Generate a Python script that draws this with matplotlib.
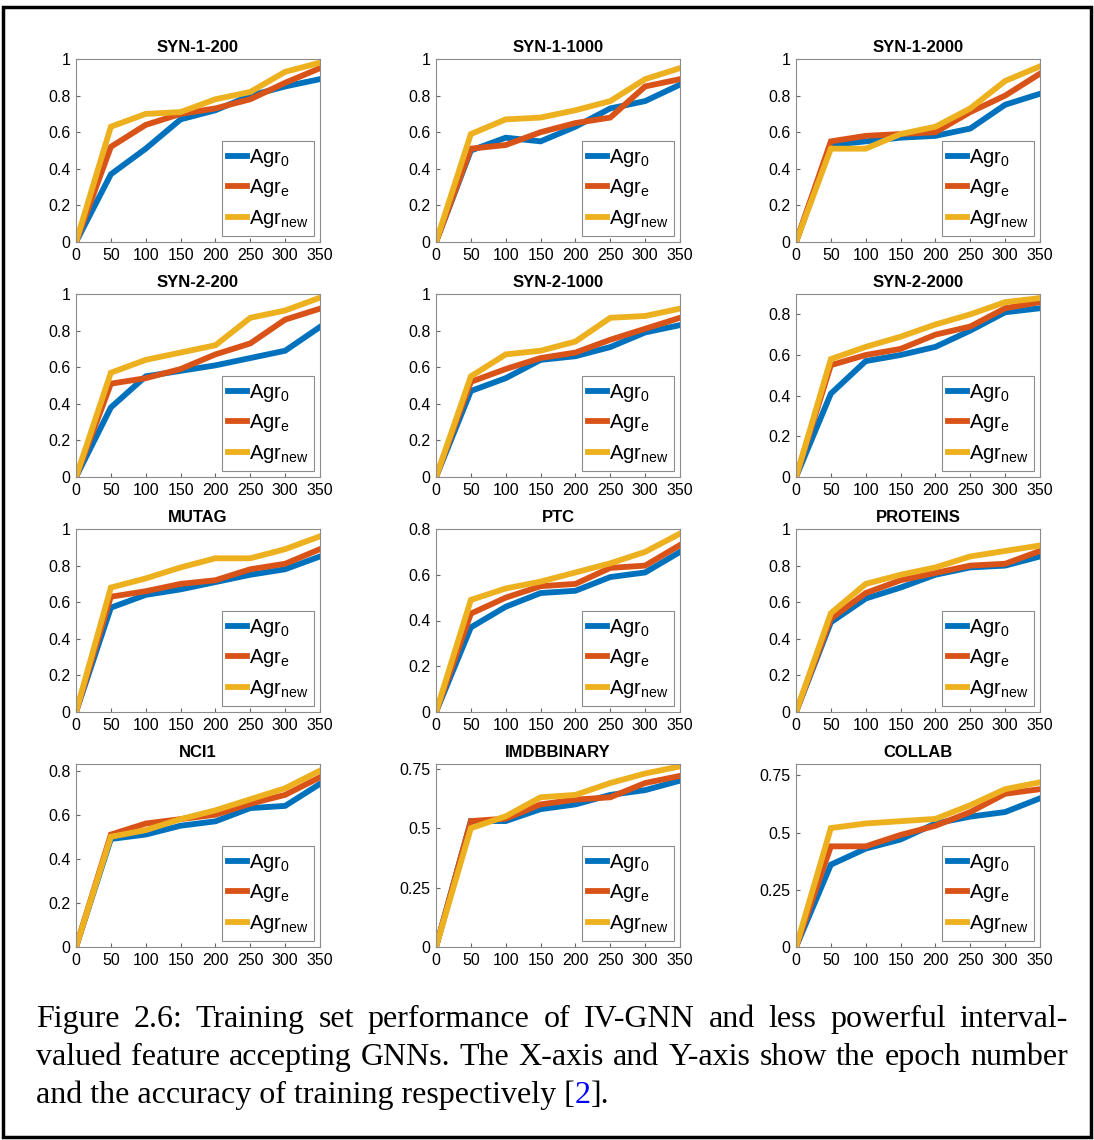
import matplotlib
matplotlib.use('Agg')
import matplotlib.pyplot as plt
from matplotlib.ticker import FormatStrFormatter
from matplotlib.patches import Rectangle
import numpy as np

plt.rcParams['font.family'] = ['Liberation Sans', 'DejaVu Sans']
plt.rcParams['mathtext.fontset'] = 'custom'
plt.rcParams['mathtext.rm'] = 'Liberation Sans'
plt.rcParams['mathtext.it'] = 'Liberation Sans'

epochs = [0, 50, 100, 150, 200, 250, 300, 350]

titles = ['SYN-1-200', 'SYN-1-1000', 'SYN-1-2000',
          'SYN-2-200', 'SYN-2-1000', 'SYN-2-2000',
          'MUTAG', 'PTC', 'PROTEINS',
          'NCI1', 'IMDBBINARY', 'COLLAB']

agr_0 = [
    [0, 0.37, 0.51, 0.67, 0.72, 0.80, 0.85, 0.89],
    [0, 0.50, 0.57, 0.55, 0.63, 0.73, 0.77, 0.86],
    [0, 0.53, 0.55, 0.57, 0.58, 0.62, 0.75, 0.81],
    [0, 0.38, 0.55, 0.58, 0.61, 0.65, 0.69, 0.82],
    [0, 0.47, 0.54, 0.64, 0.66, 0.71, 0.79, 0.83],
    [0, 0.41, 0.57, 0.60, 0.64, 0.72, 0.81, 0.83],
    [0, 0.57, 0.64, 0.67, 0.71, 0.75, 0.78, 0.85],
    [0, 0.37, 0.46, 0.52, 0.53, 0.59, 0.61, 0.70],
    [0, 0.49, 0.62, 0.68, 0.75, 0.79, 0.80, 0.85],
    [0, 0.49, 0.51, 0.55, 0.57, 0.63, 0.64, 0.74],
    [0, 0.53, 0.53, 0.58, 0.60, 0.64, 0.66, 0.70],
    [0, 0.36, 0.43, 0.47, 0.54, 0.57, 0.59, 0.65],
]
agr_e = [
    [0, 0.52, 0.64, 0.70, 0.73, 0.78, 0.87, 0.95],
    [0, 0.51, 0.53, 0.60, 0.65, 0.68, 0.85, 0.89],
    [0, 0.55, 0.58, 0.59, 0.60, 0.71, 0.80, 0.92],
    [0, 0.51, 0.54, 0.59, 0.67, 0.73, 0.86, 0.92],
    [0, 0.52, 0.59, 0.65, 0.68, 0.75, 0.81, 0.87],
    [0, 0.55, 0.60, 0.63, 0.70, 0.74, 0.83, 0.86],
    [0, 0.63, 0.66, 0.70, 0.72, 0.78, 0.81, 0.89],
    [0, 0.43, 0.50, 0.55, 0.56, 0.63, 0.64, 0.73],
    [0, 0.51, 0.65, 0.72, 0.76, 0.80, 0.81, 0.88],
    [0, 0.51, 0.56, 0.58, 0.60, 0.65, 0.69, 0.77],
    [0, 0.53, 0.54, 0.60, 0.62, 0.63, 0.69, 0.72],
    [0, 0.44, 0.44, 0.49, 0.53, 0.59, 0.67, 0.69],
]
agr_new = [
    [0, 0.63, 0.70, 0.71, 0.78, 0.82, 0.93, 0.98],
    [0, 0.59, 0.67, 0.68, 0.72, 0.77, 0.89, 0.95],
    [0, 0.51, 0.51, 0.59, 0.63, 0.73, 0.88, 0.96],
    [0, 0.57, 0.64, 0.68, 0.72, 0.87, 0.91, 0.98],
    [0, 0.55, 0.67, 0.69, 0.74, 0.87, 0.88, 0.92],
    [0, 0.58, 0.64, 0.69, 0.75, 0.80, 0.86, 0.88],
    [0, 0.68, 0.73, 0.79, 0.84, 0.84, 0.89, 0.96],
    [0, 0.49, 0.54, 0.57, 0.61, 0.65, 0.70, 0.78],
    [0, 0.54, 0.70, 0.75, 0.79, 0.85, 0.88, 0.91],
    [0, 0.50, 0.53, 0.58, 0.62, 0.67, 0.72, 0.80],
    [0, 0.50, 0.55, 0.63, 0.64, 0.69, 0.73, 0.76],
    [0, 0.52, 0.54, 0.55, 0.56, 0.62, 0.69, 0.72],
]

y_top = [1, 1, 1, 1, 1, 0.9, 1, 0.8, 1, 0.83, 0.77, 0.8]
y_step = [0.2, 0.2, 0.2, 0.2, 0.2, 0.2, 0.2, 0.2, 0.2, 0.2, 0.25, 0.25]

labels = [r'Agr$_{0}$', r'Agr$_{\mathrm{e}}$', r'Agr$_{\mathrm{new}}$']
colors = ['#0072BD', '#D95319', '#EDB120']

caption_lines = [
    "Figure 2.6:  Training set performance of IV-GNN and less powerful interval-",
    "valued feature accepting GNNs. The X-axis and Y-axis show the epoch number",
]
caption_last = ["and the accuracy of training respectively [", "2", "]."]

W, H = 1094, 1140
fig = plt.figure(figsize=(W / 100, H / 100), dpi=100)

lefts = [76, 436, 796]
tops = [59, 294, 529, 764]
aw, ah = 244, 183

for k in range(12):
    r, c = divmod(k, 3)
    ax = fig.add_axes([lefts[c] / W, (H - tops[r] - ah) / H, aw / W, ah / H])
    for series, lab, col in zip([agr_0[k], agr_e[k], agr_new[k]], labels, colors):
        ax.plot(epochs, series, color=col, lw=4.2, label=lab, solid_joinstyle='miter')
    ax.set_xlim(0, 350)
    ax.set_ylim(0, y_top[k])
    ax.set_xticks(epochs)
    ax.set_yticks(np.arange(0, y_top[k] + 1e-9, y_step[k]))
    ax.yaxis.set_major_formatter(FormatStrFormatter('%g'))
    ax.tick_params(direction='in', length=3, labelsize=11.5, color='0.4', pad=4)
    for s in ax.spines.values():
        s.set_color('0.55')
        s.set_linewidth(0.8)
    ax.set_title(titles[k], fontsize=12, fontweight='bold', pad=5)
    leg = ax.legend(loc='lower right', fontsize=14.5, handlelength=0.95, handletextpad=0.08,
                    labelspacing=0.42, borderpad=0.3, borderaxespad=0.3,
                    fancybox=False, framealpha=1, edgecolor='0.55')
    leg.get_frame().set_linewidth(0.8)

# caption, justified by hand
cap_font = dict(family='Liberation Serif', fontsize=23)
renderer = fig.canvas.get_renderer()
x0, x1 = 36, 1068
baselines = [1027, 1065, 1103]
for line, yb in zip(caption_lines, baselines[:2]):
    words = line.split()
    texts = [fig.text(0, 1 - yb / H, w, va='baseline', **cap_font) for w in words]
    widths = [t.get_window_extent(renderer).width for t in texts]
    gap = (x1 - x0 - sum(widths)) / (len(words) - 1)
    x = x0
    for t, w in zip(texts, widths):
        t.set_x(x / W)
        x += w + gap

x = x0
for piece, col in zip(caption_last, ['black', 'blue', 'black']):
    t = fig.text(x / W, 1 - baselines[2] / H, piece, va='baseline', color=col, **cap_font)
    x += t.get_window_extent(renderer).width

fig.patches.append(Rectangle((3 / W, 3 / H), (W - 6) / W, (H - 10) / H, transform=fig.transFigure,
                             fill=False, edgecolor='black', lw=2.5))

fig.savefig('out.png', dpi=100)
